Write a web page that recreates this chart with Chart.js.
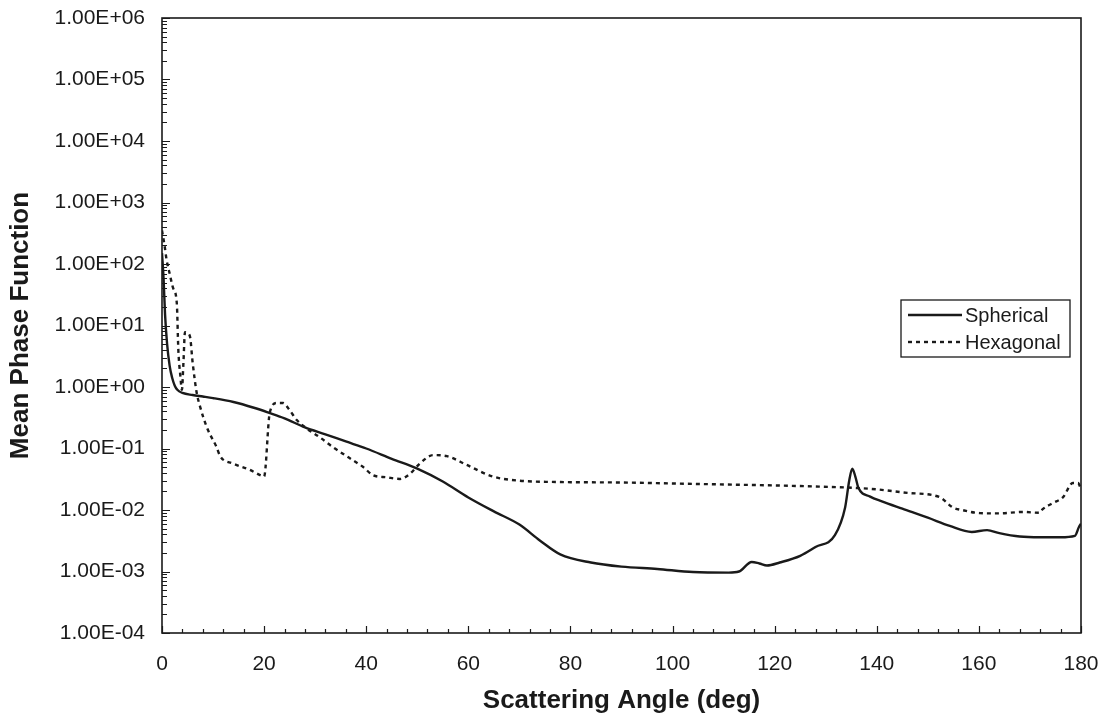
<!DOCTYPE html>
<html>
<head>
<meta charset="utf-8">
<script src="https://cdn.jsdelivr.net/npm/chart.js@4.4.0/dist/chart.umd.min.js"></script>
<style>
  html, body { margin: 0; padding: 0; background: #fff; }
  #wrap { width: 1110px; height: 718px; }
</style>
</head>
<body>
<div id="wrap"><canvas id="phaseChart" width="1110" height="718"></canvas></div>
<script>
// values
var spherAngle = [0, 0.3, 0.6, 1.0, 1.5, 2.0, 2.5, 3.0, 4.0, 6.0, 8.0, 10, 14, 18, 21, 24, 28, 32, 36, 40,
  45, 50, 55, 60, 65, 70, 74, 78, 84, 90, 97, 104, 111, 113, 115.5, 117, 118.5, 121, 125, 128,
  131.8, 133.8, 134.6, 135.2, 135.8, 136.4, 138.7, 141, 145, 150, 154.3, 158.6, 161.6, 164, 168,
  172, 176, 178.8, 179.6, 180];
var spherValue = [150, 60, 15, 5, 2.2, 1.4, 1.05, 0.9, 0.8, 0.74, 0.70, 0.66, 0.57, 0.46, 0.38, 0.31, 0.22, 0.17, 0.13, 0.10,
  0.068, 0.047, 0.029, 0.016, 0.0095, 0.0058, 0.0032, 0.0019, 0.0014, 0.0012, 0.0011, 0.00098, 0.00096, 0.0010, 0.00143, 0.00135, 0.00125, 0.0014, 0.0018, 0.0025,
  0.0039, 0.011, 0.03, 0.047, 0.035, 0.023, 0.0165, 0.0138, 0.0105, 0.0075, 0.0055, 0.0044, 0.0047, 0.0042, 0.0037,
  0.0036, 0.0036, 0.0038, 0.0053, 0.0060];

var hexAngle = [0, 0.5, 0.9, 1.5, 2.2, 2.9, 3.2, 3.6, 3.9, 4.2, 4.5, 5.0, 5.5, 6.0, 6.8, 7.4, 8.1, 9.0, 10.7, 11.4,
  13.9, 17.2, 19.5, 20.0, 21.1, 22.5, 23.7, 25, 26.4, 28.4, 31, 33.5, 36.5, 39.4, 41.3, 44, 46.6, 48.6, 50.5, 53.1,
  55.8, 59.7, 64.8, 70, 78, 90, 100, 110, 125, 139, 146, 152.3, 154.9, 156.9, 160.2, 164, 168.6, 171.9, 172.5, 174.5,
  176.5, 178.4, 179.4, 180];
var hexValue = [350, 200, 117, 70, 40, 23, 4, 1.5, 0.9, 2.5, 7.8, 7.5, 6.5, 2.5, 0.8, 0.5, 0.32, 0.2, 0.105, 0.075,
  0.057, 0.045, 0.036, 0.035, 0.38, 0.55, 0.55, 0.42, 0.29, 0.21, 0.15, 0.105, 0.072, 0.050, 0.037, 0.034, 0.032, 0.039, 0.057, 0.078,
  0.075, 0.054, 0.035, 0.030, 0.0285, 0.028, 0.027, 0.026, 0.0245, 0.022, 0.019, 0.0162, 0.011, 0.0099, 0.0089, 0.0088, 0.0093, 0.009, 0.0103, 0.013,
  0.0162, 0.0275, 0.0275, 0.022];

var seriesNames = ['Spherical', 'Hexagonal'];
var xTicks = [0, 20, 40, 60, 80, 100, 120, 140, 160, 180];
var yTicks = [1e-4, 1e-3, 1e-2, 1e-1, 1e0, 1e1, 1e2, 1e3, 1e4, 1e5, 1e6];

var fontFamily = '"Liberation Sans", Arial, Helvetica, sans-serif';
var ink = '#1a1a1a';

function toPoints(xs, ys) {
  return xs.map(function(x, i) { return { x: x, y: ys[i] }; });
}

function sciLabel(v) {
  var e = Math.round(Math.log10(v));
  var sign = e < 0 ? '-' : '+';
  var a = Math.abs(e);
  return '1.00E' + sign + (a < 10 ? '0' : '') + a;
}

// frame, inward tick marks and legend box
var decorPlugin = {
  id: 'decor',
  afterDraw: function(chart) {
    var ctx = chart.ctx;
    var area = chart.chartArea;
    var xs = chart.scales.x;
    var ys = chart.scales.y;
    ctx.save();
    ctx.strokeStyle = ink;
    ctx.lineWidth = 1.6;
    ctx.strokeRect(area.left, area.top, area.right - area.left, area.bottom - area.top);

    ctx.lineWidth = 1.2;
    ctx.beginPath();
    for (var n = -4; n <= 6; n++) {
      for (var k = 1; k <= 9; k++) {
        var v = k * Math.pow(10, n);
        if (v > 1e6 * 1.0001) break;
        var py = Math.round(ys.getPixelForValue(v)) + 0.5;
        var len = k === 1 ? 8 : 5;
        ctx.moveTo(area.left, py);
        ctx.lineTo(area.left + len, py);
      }
    }
    for (var d = 0; d <= 180; d += 4) {
      var px = Math.round(xs.getPixelForValue(d)) + 0.5;
      var l = d % 20 === 0 ? 7 : 4;
      ctx.moveTo(px, area.bottom);
      ctx.lineTo(px, area.bottom - l);
    }
    ctx.stroke();

    // legend
    var bx = 901, by = 300, bw = 169, bh = 57;
    ctx.lineWidth = 1.3;
    ctx.strokeRect(bx, by, bw, bh);
    ctx.font = '20px ' + fontFamily;
    ctx.fillStyle = ink;
    ctx.textBaseline = 'middle';
    chart.data.datasets.forEach(function(ds, i) {
      var ly = by + 15 + i * 27;
      ctx.beginPath();
      ctx.lineWidth = ds.borderWidth;
      ctx.setLineDash(ds.borderDash || []);
      ctx.moveTo(bx + 7, ly);
      ctx.lineTo(bx + 61, ly);
      ctx.stroke();
      ctx.setLineDash([]);
      ctx.fillText(ds.label, bx + 64, ly + 1);
    });
    ctx.restore();
  }
};

new Chart(document.getElementById('phaseChart'), {
  type: 'line',
  data: {
    datasets: [{
      label: seriesNames[0],
      data: toPoints(spherAngle, spherValue),
      borderColor: ink,
      borderWidth: 2.4,
      pointRadius: 0,
      cubicInterpolationMode: 'monotone',
      fill: false
    }, {
      label: seriesNames[1],
      data: toPoints(hexAngle, hexValue),
      borderColor: ink,
      borderWidth: 2.4,
      borderDash: [4, 4],
      pointRadius: 0,
      cubicInterpolationMode: 'monotone',
      fill: false
    }]
  },
  options: {
    responsive: false,
    animation: false,
    layout: { padding: { top: 18, right: 29, left: 0, bottom: 0 } },
    plugins: {
      legend: { display: false },
      tooltip: { enabled: false }
    },
    scales: {
      x: {
        type: 'linear',
        min: 0,
        max: 180,
        afterFit: function(scale) {
          scale.height = 85;
          scale.paddingRight = 0;
          scale.paddingLeft = 0;
        },
        afterBuildTicks: function(scale) {
          scale.ticks = xTicks.map(function(v) { return { value: v }; });
        },
        grid: { display: false, drawTicks: false },
        border: { display: false },
        ticks: {
          padding: 19,
          maxRotation: 0,
          autoSkip: false,
          color: ink,
          font: { family: fontFamily, size: 21 }
        },
        title: {
          display: true,
          text: 'Scattering Angle (deg)',
          color: ink,
          padding: { top: 0, bottom: 2 },
          font: { family: fontFamily, size: 26, weight: 'bold' }
        }
      },
      y: {
        type: 'logarithmic',
        min: 1e-4,
        max: 1e6,
        afterFit: function(scale) {
          scale.width = 162;
          scale.paddingTop = 0;
          scale.paddingBottom = 0;
        },
        afterBuildTicks: function(scale) {
          scale.ticks = yTicks.map(function(v) { return { value: v }; });
        },
        grid: { display: false, drawTicks: false },
        border: { display: false },
        ticks: {
          padding: 17,
          autoSkip: false,
          color: ink,
          font: { family: fontFamily, size: 21 },
          callback: function(value) { return sciLabel(value); }
        },
        title: {
          display: true,
          text: 'Mean Phase Function',
          color: ink,
          padding: { top: 5, bottom: 0 },
          font: { family: fontFamily, size: 26, weight: 'bold' }
        }
      }
    }
  },
  plugins: [decorPlugin]
});
</script>
</body>
</html>
